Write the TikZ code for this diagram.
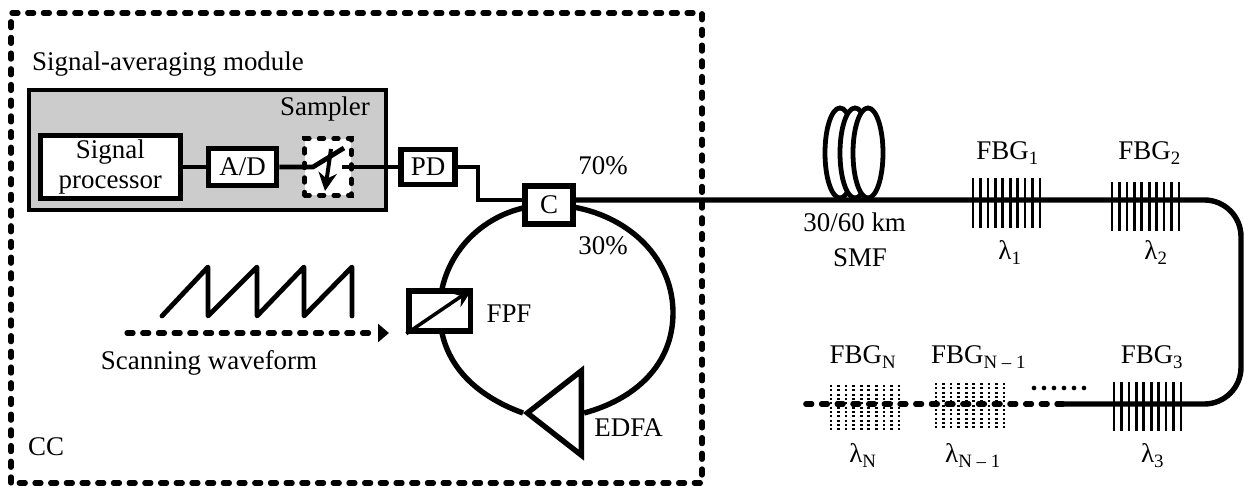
\documentclass[tikz,border=0pt]{standalone}
\usepackage{fontspec}
\setmainfont{Liberation Serif}
\usetikzlibrary{arrows.meta, positioning, shapes.geometric, calc, backgrounds}
\definecolor{cgrey}{HTML}{CCCCCC}
\tikzset{
  every picture/.style={font=\fontsize{23}{26}\selectfont},
  box/.style={draw, fill=white, line width=4.6pt, align=center, inner sep=0pt},
  wire/.style={draw, line width=4.1pt},
  fibre/.style={draw, line width=4.6pt},
  grating/.style={draw, line width=2.3pt},
  fadegrating/.style={grating, dash pattern=on 1.7pt off 2pt},
  dashline/.style={draw, line width=4.4pt, line cap=round, dash pattern=on 5.2pt off 8.2pt},
  coil/.style={draw, ellipse, fill=white, line width=4.1pt, minimum width=.9cm, minimum height=2.7cm, inner sep=0pt},
  lab/.style={anchor=base, inner sep=0pt},
}
\begin{document}
\begin{tikzpicture}
  \useasboundingbox (0,0) rectangle (37.32,14.67);
  % control computer
  \draw[dashline] (.33,.18) rectangle (21.06,14.28);
  \node[draw, fill=cgrey, line width=3.6pt, minimum width=10.73cm, minimum height=3.6cm] (avg) at (6.225,10.17) {};
  \node[lab, anchor=base west] (avglab) at (.96,12.54) {Signal-averaging module};
  \node[lab] (samplab) at (9.75,11.19) {Sampler};
  \node[lab, anchor=base west] (cclab) at (.84,.99) {CC};
  \node[box, minimum width=4.2cm, minimum height=1.88cm] (sp) at (3.31,9.66) {Signal\\[-1pt]processor};
  \node[box, minimum width=2.04cm, minimum height=1.11cm] (ad) at (7.28,9.66) {A/D};
  \node[box, minimum width=1.62cm, minimum height=1.05cm] (pd) at (12.84,9.66) {PD};
  \node[dashline, fill=white, line width=3.8pt, dash pattern=on 4.2pt off 8.2pt, minimum width=1.4cm, minimum height=1.7cm] (samp) at (9.84,9.66) {};
  \coordinate (swL) at (9.39,9.66);
  \coordinate (swR) at (10.26,9.66);
  \coordinate (swE) at (10.32,10.23);
  \coordinate (swT) at (9.93,10.2);
  \coordinate (swB) at (9.75,8.94);
  \draw[wire] (sp) -- (ad);
  \draw[wire] (ad) -- (swL) -- (swE);
  \draw[wire] (swR) -- (pd);
  \draw[line width=3.4pt, -{Stealth[length=.55cm, width=.55cm]}] (swT) -- (swB);
  % circulator and ring
  \node[box, minimum width=1.44cm, minimum height=1.14cm] (c) at (16.47,8.52) {C};
  \node[box, minimum width=1.84cm, minimum height=1.2cm] (fpf) at (13.19,5.34) {};
  \node[box, isosceles triangle, isosceles triangle apex angle=76, shape border rotate=180, minimum height=1.62cm, anchor=apex] (edfa) at (15.69,2.28) {};
  \coordinate (ringE) at (20.19,5.28);
  \begin{scope}[on background layer]
    \draw[fibre] (c.center) to[out=0, in=90] (ringE) to[out=-90, in=15] (edfa.lower side);
    \draw[fibre] (edfa.apex) to[out=160, in=-90] (fpf.center) to[out=90, in=180] (c.center);
  \end{scope}
  \draw[line width=3pt, -{Stealth[length=.62cm, width=.5cm]}] (fpf.south west) -- (fpf.north east);
  \node[lab] (fpflab) at (15.27,4.98) {FPF};
  \node[lab] (edfalab) at (18.86,1.56) {EDFA};
  \node[lab] (p70) at (18.09,9.42) {70\%};
  \node[lab] (p30) at (18.09,7.02) {30\%};
  \coordinate (cin) at ($(c.west)+(0,.15)$);
  \coordinate (cout) at ($(c.east)+(0,.15)$);
  \draw[wire] (pd.east) -| (14.34,8.67) -- (cin);
  % scanning waveform
  \draw[wire, line join=round, line cap=round] (4.86,5.19) -- (6.24,6.66) -- (6.24,5.19) -- (7.71,6.66) -- (7.71,5.19) -- (9.12,6.66) -- (9.12,5.19) -- (10.56,6.66) -- (10.56,5.19);
  \coordinate (scanA) at (3.81,4.68);
  \coordinate (scanB) at (11.34,4.68);
  \coordinate (scanC) at (11.67,4.68);
  \draw[dashline] (scanA) -- (scanB);
  \draw[line width=3pt, -{Triangle[length=.33cm, width=.54cm]}] (scanB) -- (scanC);
  \node[lab] (scanlab) at (6.27,3.57) {Scanning waveform};
  % fibre line
  \foreach \n/\x in {a/25.2, b/25.65, d/26.04} \node[coil] (smf\n) at (\x,10.08) {};
  \coordinate (bendT) at (37.23,8.67);
  \coordinate (bendB) at (37.23,2.55);
  \coordinate (lineEnd) at (31.89,2.55);
  \coordinate (tailEnd) at (24.09,2.55);
  \draw[fibre, rounded corners=1.1cm] (cout) -- (bendT) -- (bendB) -- (lineEnd);
  \draw[dashline] (lineEnd) -- (tailEnd);
  \foreach \x/\a/\b in {29.19/9.33/7.83, 33.36/9.21/7.74, 33.42/3.21/1.74}
    \foreach \i in {0,...,9} \draw[grating] ({\x+\i*.2233},\a) -- ({\x+\i*.2233},\b);
  \foreach \x/\a/\b in {24.93/3.12/1.74, 28.08/3.18/1.8}
    \foreach \i in {0,...,9} \draw[fadegrating] ({\x+\i*.2267},\a) -- ({\x+\i*.2267},\b);
  \foreach \i in {0,...,5} \fill ({31.02+\i*.3},3.03) circle (.07);
  \node[lab] (smflen) at (25.64,7.71) {30/60 km};
  \node[lab] (smflab) at (25.8,6.66) {SMF};
  \node[lab] (fbga) at (30.23,9.87) {FBG\textsubscript{1}};
  \node[lab] (fbgb) at (34.49,9.87) {FBG\textsubscript{2}};
  \node[lab] (fbgc) at (34.56,3.75) {FBG\textsubscript{3}};
  \node[lab] (fbgn) at (25.89,3.75) {FBG\textsubscript{N}};
  \node[lab] (fbgm) at (29.36,3.75) {FBG\textsubscript{N – 1}};
  \node[lab] (la) at (30.3,6.87) {λ\textsubscript{1}};
  \node[lab] (lb) at (34.68,6.87) {λ\textsubscript{2}};
  \node[lab] (lc) at (34.58,.78) {λ\textsubscript{3}};
  \node[lab] (ln) at (25.89,.78) {λ\textsubscript{N}};
  \node[lab] (lm) at (29.19,.78) {λ\textsubscript{N – 1}};
\end{tikzpicture}
\end{document}
